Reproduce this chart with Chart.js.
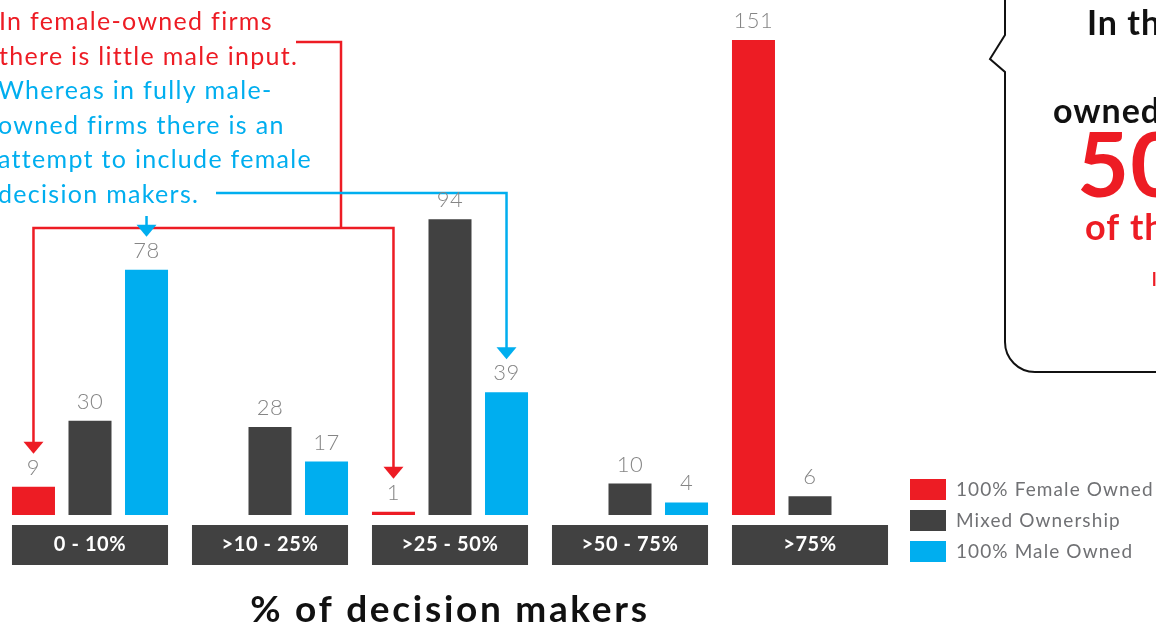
<!DOCTYPE html>
<html>
<head>
<meta charset="utf-8">
<title>% of decision makers</title>
<script src="https://cdn.jsdelivr.net/npm/chart.js@4.4.1/dist/chart.umd.min.js"></script>
<style>
  html, body { margin: 0; padding: 0; background: #fff; }
  body { width: 1156px; height: 630px; overflow: hidden; position: relative; }
  #chart { position: absolute; left: 0; top: 0; }
</style>
</head>
<body>
<canvas id="chart" width="1156" height="630"></canvas>
<script>
// share of decision makers by ownership type
const categories = ['0 - 10%', '>10 - 25%', '>25 - 50%', '>50 - 75%', '>75%'];
const seriesNames = ['100% Female Owned', 'Mixed Ownership', '100% Male Owned'];
const femaleOwned = [9, null, 1, null, 151];
const mixedOwnership = [30, 28, 94, 10, 6];
const maleOwned = [78, 17, 39, 4, null];

const noteRed = ['In female-owned firms', 'there is little male input.'];
const noteBlue = ['Whereas in fully male-', 'owned firms there is an', 'attempt to include female', 'decision makers.'];
const axisTitle = '% of decision makers';

const RED = '#ed1c24';
const GREY = '#414141';
const BLUE = '#00aeef';
const FONT = 'Lato, "Noto Sans", sans-serif';
const CAT_PCT = 0.942;
const BAR_PCT = 0.761;

function arrowDown(ctx, x, y, color) {
    ctx.fillStyle = color;
    ctx.beginPath();
    ctx.moveTo(x - 10, y - 12);
    ctx.lineTo(x + 10, y - 12);
    ctx.lineTo(x, y);
    ctx.closePath();
    ctx.fill();
}

// callout lines pointing at single bars; drawn under the bars
const callouts = {
    id: 'callouts',
    beforeDatasetsDraw(chart) {
        const ctx = chart.ctx;
        const fem = chart.getDatasetMeta(0).data;
        const male = chart.getDatasetMeta(2).data;
        ctx.save();
        ctx.lineWidth = 2.5;
        ctx.lineJoin = 'miter';

        // red: female-owned bars in first and third group
        const r0 = fem[0], r2 = fem[2];
        ctx.strokeStyle = RED;
        ctx.beginPath();
        ctx.moveTo(296, 42);
        ctx.lineTo(341, 42);
        ctx.lineTo(341, 228);
        ctx.moveTo(r0.x, r0.y - 44);
        ctx.lineTo(r0.x, 228);
        ctx.lineTo(r2.x, 228);
        ctx.lineTo(r2.x, r2.y - 44);
        ctx.stroke();
        arrowDown(ctx, r0.x, r0.y - 33, RED);
        arrowDown(ctx, r2.x, r2.y - 33, RED);

        // blue: male-owned bars in first and third group
        const b0 = male[0], b2 = male[2];
        ctx.strokeStyle = BLUE;
        ctx.beginPath();
        ctx.moveTo(216, 193);
        ctx.lineTo(b2.x, 193);
        ctx.lineTo(b2.x, b2.y - 44);
        ctx.moveTo(b0.x, 216);
        ctx.lineTo(b0.x, b0.y - 44);
        ctx.stroke();
        arrowDown(ctx, b0.x, b0.y - 33, BLUE);
        arrowDown(ctx, b2.x, b2.y - 33, BLUE);
        ctx.restore();
    }
};

const decorations = {
    id: 'decorations',
    afterDatasetsDraw(chart) {
        const ctx = chart.ctx;
        ctx.save();
        // values over the bars
        ctx.font = '300 22px ' + FONT;
        ctx.fillStyle = '#858585';
        ctx.textAlign = 'center';
        ctx.textBaseline = 'alphabetic';
        ctx.letterSpacing = '0.5px';
        chart.data.datasets.forEach((ds, di) => {
            chart.getDatasetMeta(di).data.forEach((el, i) => {
                const v = ds.data[i];
                if (v === null) return;
                ctx.fillText(String(v), el.x, el.y - 12);
            });
        });

        // category boxes under each group
        const xs = chart.scales.x;
        const catW = xs.width / categories.length;
        const groupW = catW * CAT_PCT;
        const slot = groupW / 3;
        const half = groupW / 2 - slot * (1 - BAR_PCT) / 2;
        ctx.letterSpacing = '0.6px';
        categories.forEach((c, i) => {
            const cx = xs.getPixelForTick(i);
            ctx.fillStyle = GREY;
            ctx.fillRect(cx - half, 525, half * 2, 40);
            ctx.fillStyle = '#fff';
            ctx.font = 'bold 20px ' + FONT;
            ctx.textBaseline = 'middle';
            ctx.fillText(c, cx, 545);
        });

        // axis title
        ctx.fillStyle = '#111';
        ctx.font = 'bold 37px ' + FONT;
        ctx.letterSpacing = '2.7px';
        ctx.textBaseline = 'alphabetic';
        ctx.fillText(axisTitle, 450, 622);

        // legend
        ctx.textAlign = 'left';
        ctx.textBaseline = 'middle';
        ctx.font = '19px ' + FONT;
        ctx.letterSpacing = '1.1px';
        chart.data.datasets.forEach((ds, i) => {
            const y = 479 + i * 31;
            ctx.fillStyle = ds.backgroundColor;
            ctx.fillRect(910, y, 36, 21);
            ctx.fillStyle = '#707174';
            ctx.fillText(ds.label, 956, y + 11);
        });

        // notes top left
        ctx.textBaseline = 'alphabetic';
        ctx.font = '25px ' + FONT;
        ctx.letterSpacing = '1.3px';
        ctx.fillStyle = RED;
        noteRed.forEach((t, i) => ctx.fillText(t, -1, 30 + i * 34.6));
        ctx.fillStyle = BLUE;
        noteBlue.forEach((t, i) => ctx.fillText(t, -2, 30 + (i + 2) * 34.6));

        // speech bubble on the right
        ctx.strokeStyle = '#111';
        ctx.lineWidth = 2;
        ctx.beginPath();
        ctx.moveTo(1200, 372);
        ctx.lineTo(1035, 372);
        ctx.arcTo(1005, 372, 1005, 342, 30);
        ctx.lineTo(1005, 72);
        ctx.lineTo(990, 59);
        ctx.lineTo(1005, 35);
        ctx.lineTo(1005, -5);
        ctx.arcTo(1005, -35, 1035, -35, 30);
        ctx.lineTo(1200, -35);
        ctx.stroke();

        ctx.letterSpacing = '1px';
        ctx.fillStyle = '#111';
        ctx.font = 'bold 34px ' + FONT;
        ctx.fillText('In the mixed', 1087, 35);
        ctx.fillText('owned firms', 1053, 123);
        ctx.fillStyle = RED;
        ctx.font = 'bold 90px ' + FONT;
        ctx.fillText('50%', 1077, 197);
        ctx.font = 'bold 36px ' + FONT;
        ctx.fillText('of the leaders', 1085, 240);
        ctx.font = 'bold 18px ' + FONT;
        ctx.fillText('live', 1152, 286);
        ctx.restore();
    }
};

const colors = [RED, GREY, BLUE];
const seriesData = [femaleOwned, mixedOwnership, maleOwned];

new Chart(document.getElementById('chart'), {
    type: 'bar',
    data: {
        labels: categories,
        datasets: seriesNames.map((name, i) => ({
            label: name,
            data: seriesData[i],
            backgroundColor: colors[i],
            borderWidth: 0,
            categoryPercentage: CAT_PCT,
            barPercentage: BAR_PCT
        }))
    },
    options: {
        responsive: false,
        animation: false,
        layout: { padding: { left: 0, right: 256, top: 40, bottom: 115 } },
        scales: {
            x: { display: false },
            y: { display: false, min: 0, max: 151 }
        },
        plugins: {
            legend: { display: false },
            tooltip: { enabled: false }
        }
    },
    plugins: [callouts, decorations]
});
</script>
</body>
</html>
